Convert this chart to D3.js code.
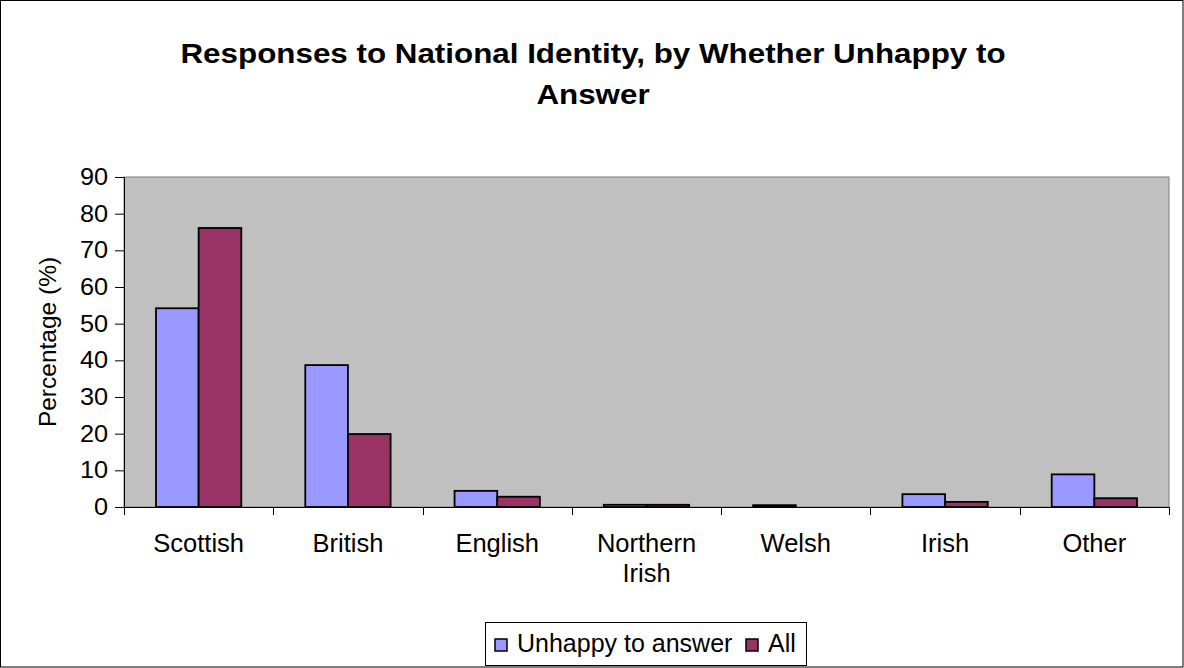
<!DOCTYPE html>
<html>
<head>
<meta charset="utf-8">
<script src="https://cdn.jsdelivr.net/npm/d3@7"></script>
<style>
  body { margin: 0; background: #fff; }
  svg { display: block; font-family: Arial, "Liberation Sans", sans-serif; }
</style>
</head>
<body>
<div id="chart"></div>
<script>
// Data
const categories = ['Scottish', 'British', 'English', 'Northern Irish', 'Welsh', 'Irish', 'Other'];
const seriesNames = ['Unhappy to answer', 'All'];
const unhappy = [54.2, 38.7, 4.4, 0.6, 0.5, 3.5, 8.9];
const all = [76.1, 19.9, 2.8, 0.6, 0, 1.4, 2.4];
const yTicks = [0, 10, 20, 30, 40, 50, 60, 70, 80, 90];
const colors = ['#9999FF', '#993366'];

const width = 1184, height = 668;
const plot = { left: 124, top: 177, right: 1169, bottom: 507 };

const svg = d3.select('#chart').append('svg')
    .attr('width', width)
    .attr('height', height);

// outer frame
svg.append('rect')
    .attr('x', 0.5).attr('y', 0.5)
    .attr('width', width - 1.5).attr('height', height - 1.5)
    .attr('fill', '#fff').attr('stroke', '#000');

// title (the original text is drawn a bit wide, so stretch it)
const titleLines = ['Responses to National Identity, by Whether Unhappy to', 'Answer'];
svg.append('g').selectAll('text')
    .data(titleLines).join('text')
    .attr('text-anchor', 'middle')
    .attr('font-size', 28).attr('font-weight', 'bold')
    .attr('transform', (d, i) => `translate(593,${63 + i * 41}) scale(1.12,1)`)
    .text(d => d);

// scales
const x0 = d3.scaleBand(categories, [plot.left, plot.right]).paddingInner(0).paddingOuter(0);
const y = d3.scaleLinear([0, 90], [plot.bottom, plot.top]);
const barW = x0.bandwidth() / 3.5;

// plot background
svg.append('rect')
    .attr('x', plot.left).attr('y', plot.top)
    .attr('width', plot.right - plot.left).attr('height', plot.bottom - plot.top)
    .attr('fill', '#C0C0C0').attr('stroke', '#808080');

// bars
const rows = categories.map((c, i) => ({ cat: c, vals: [unhappy[i], all[i]] }));
const groups = svg.append('g').selectAll('g')
    .data(rows).join('g');
groups.selectAll('rect')
    .data(d => d.vals.map((v, k) => ({ cat: d.cat, v, k })))
    .join('rect')
    .filter(d => d.v > 0)
    .attr('x', d => x0(d.cat) + x0.bandwidth() / 2 - barW + d.k * barW)
    .attr('y', d => y(d.v))
    .attr('width', barW)
    .attr('height', d => y(0) - y(d.v))
    .attr('fill', d => colors[d.k])
    .attr('stroke', '#000').attr('stroke-width', 1.8);

// y axis
const axisY = svg.append('g')
    .attr('transform', `translate(${plot.left},0)`)
    .call(d3.axisLeft(y).tickValues(yTicks).tickSize(9).tickPadding(9));
axisY.selectAll('text')
    .attr('font-size', 23).attr('fill', '#000')
    .attr('font-family', 'Arial, "Liberation Sans", sans-serif')
    .attr('x', 0).attr('dy', '0.32em')
    .attr('transform', 'translate(-16,0) scale(1.1,1)');
axisY.select('.domain').attr('stroke', '#000');
axisY.selectAll('.tick line').attr('stroke', '#000');

// x axis
const tickPos = categories.map(c => x0(c)).concat([plot.right]);
const axisX = svg.append('g');
axisX.append('line')
    .attr('x1', plot.left).attr('x2', plot.right)
    .attr('y1', plot.bottom + 0.5).attr('y2', plot.bottom + 0.5)
    .attr('stroke', '#000');
axisX.selectAll('line.tick')
    .data(tickPos).join('line')
    .attr('class', 'tick')
    .attr('x1', d => Math.round(d) + 0.5).attr('x2', d => Math.round(d) + 0.5)
    .attr('y1', plot.bottom).attr('y2', plot.bottom + 8)
    .attr('stroke', '#000');
axisX.selectAll('text')
    .data(categories).join('text')
    .attr('text-anchor', 'middle')
    .attr('font-size', 25.5)
    .attr('x', d => x0(d) + x0.bandwidth() / 2)
    .attr('y', 552)
    .each(function (d) {
        const words = d.split(' ');
        const t = d3.select(this);
        words.forEach((w, i) => {
            t.append('tspan')
                .attr('x', x0(d) + x0.bandwidth() / 2)
                .attr('dy', i === 0 ? 0 : 30)
                .text(w);
        });
    });

// y label
svg.append('text')
    .attr('transform', `translate(56,${(plot.top + plot.bottom) / 2}) rotate(-90)`)
    .attr('text-anchor', 'middle')
    .attr('font-size', 24.5)
    .text('Percentage (%)');

// legend
const legend = svg.append('g');
legend.append('rect')
    .attr('x', 485.5).attr('y', 622.5).attr('width', 321).attr('height', 43)
    .attr('fill', '#fff').attr('stroke', '#000');
const legItems = [{ name: seriesNames[0], x: 495, tx: 517 }, { name: seriesNames[1], x: 746, tx: 768 }];
legItems.forEach((d, i) => {
    legend.append('rect')
        .attr('x', d.x).attr('y', 639).attr('width', 12).attr('height', 12)
        .attr('fill', colors[i]).attr('stroke', '#000').attr('stroke-width', 1.5);
    legend.append('text')
        .attr('x', d.tx).attr('y', 652)
        .attr('font-size', 25)
        .text(d.name);
});
</script>
</body>
</html>
